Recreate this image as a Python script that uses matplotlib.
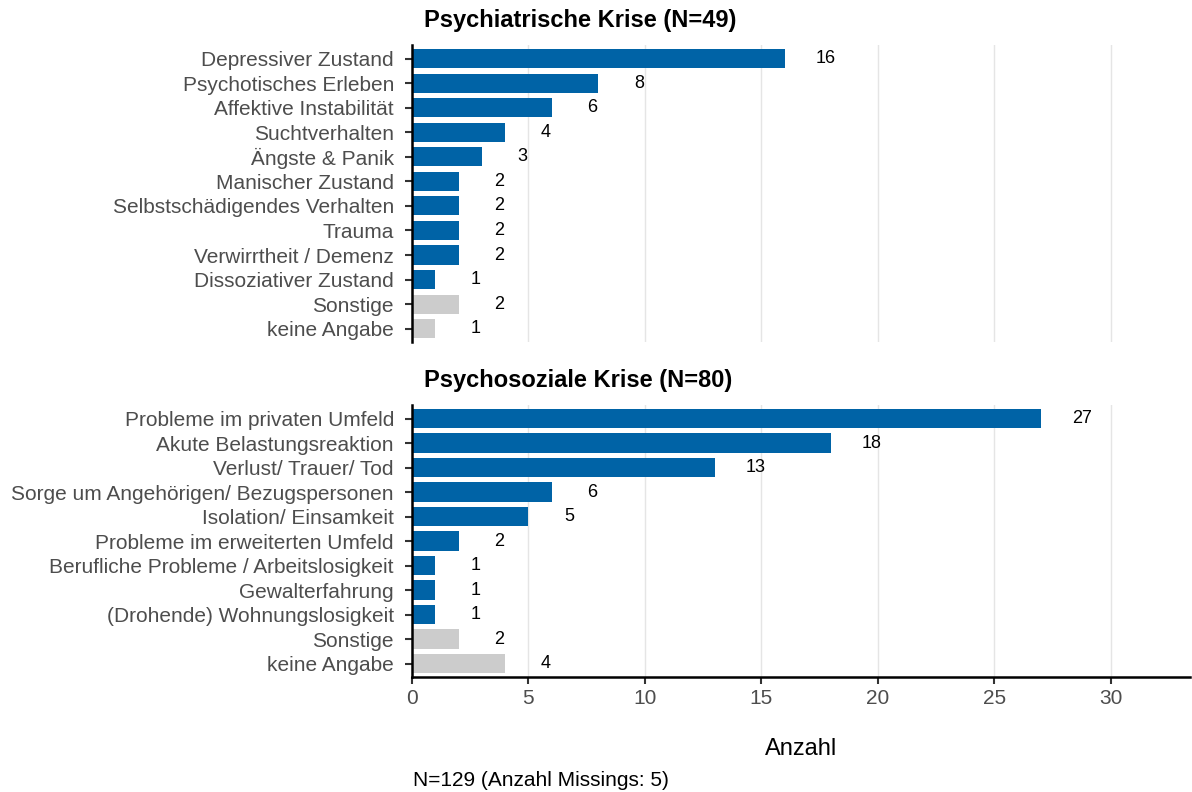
import matplotlib.pyplot as plt
import numpy as np

plt.rcParams['font.family'] = ['Liberation Sans', 'DejaVu Sans']

# data
psych_labels = ['Depressiver Zustand', 'Psychotisches Erleben', 'Affektive Instabilität',
                'Suchtverhalten', 'Ängste & Panik', 'Manischer Zustand',
                'Selbstschädigendes Verhalten', 'Trauma', 'Verwirrtheit / Demenz',
                'Dissoziativer Zustand', 'Sonstige', 'keine Angabe']
psych_values = [16, 8, 6, 4, 3, 2, 2, 2, 2, 1, 2, 1]

sozial_labels = ['Probleme im privaten Umfeld', 'Akute Belastungsreaktion',
                 'Verlust/ Trauer/ Tod', 'Sorge um Angehörigen/ Bezugspersonen',
                 'Isolation/ Einsamkeit', 'Probleme im erweiterten Umfeld',
                 'Berufliche Probleme / Arbeitslosigkeit', 'Gewalterfahrung',
                 '(Drohende) Wohnungslosigkeit', 'Sonstige', 'keine Angabe']
sozial_values = [27, 18, 13, 6, 5, 2, 1, 1, 1, 2, 4]

titles = ['Psychiatrische Krise (N=49)', 'Psychosoziale Krise (N=80)']

blue = '#0063A6'
grey = '#CCCCCC'

fig = plt.figure(figsize=(11.92, 7.92), dpi=100)
ax1 = fig.add_axes([0.3456, 0.568, 0.6527, 0.375])
ax2 = fig.add_axes([0.3456, 0.1452, 0.6527, 0.3434])

for ax, labels, vals, title in [(ax1, psych_labels, psych_values, titles[0]),
                                (ax2, sozial_labels, sozial_values, titles[1])]:
    y = np.arange(len(labels))
    cols = [grey if l in ('Sonstige', 'keine Angabe') else blue for l in labels]
    ax.barh(y, vals, height=0.78, color=cols, zorder=2)
    for yi, v in zip(y, vals):
        ax.text(v + 1.75, yi, str(v), ha='center', va='center', fontsize=13, color='black')
    ax.set_yticks(y)
    ax.set_yticklabels(labels, fontsize=15, color='#4D4D4D')
    ax.set_ylim(len(labels) - 0.45, -0.55)
    ax.set_xlim(0, 33.4)
    ax.set_xticks([0, 5, 10, 15, 20, 25, 30])
    ax.grid(axis='x', color='#E5E5E5', linewidth=1, zorder=0)
    for s in ['top', 'right']:
        ax.spines[s].set_visible(False)
    ax.spines['left'].set_linewidth(1.8)
    ax.tick_params(axis='y', length=5, width=1.5, color='#333333', pad=8)
    ax.set_title(title, fontsize=17, fontweight='bold', loc='left', x=0.016, pad=13)

ax1.spines['bottom'].set_visible(False)
ax1.tick_params(axis='x', bottom=False, labelbottom=False)
ax2.spines['bottom'].set_linewidth(1.8)
ax2.tick_params(axis='x', length=5, width=1.5, color='#333333', labelsize=15, labelcolor='#4D4D4D')
ax2.set_xlabel('Anzahl', fontsize=17, labelpad=22)

fig.text(0.3465, 0.008, 'N=129 (Anzahl Missings: 5)', fontsize=15, ha='left', va='baseline')

plt.savefig('out.png', dpi=100)
